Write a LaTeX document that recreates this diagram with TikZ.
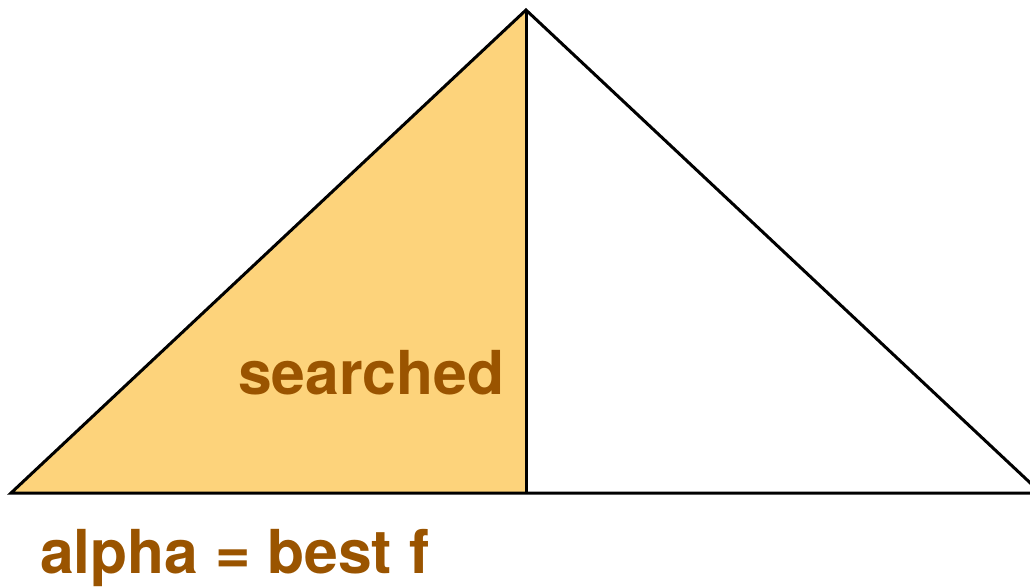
\documentclass[tikz,border=0pt]{standalone}
\usepackage{fontspec}
\setmainfont{TeX Gyre Heros}
\usetikzlibrary{positioning}
\definecolor{searchfill}{HTML}{FDD37B}
\definecolor{labelbrown}{HTML}{9A5400}
\tikzset{
  edge/.style={line width=3pt, line join=miter},
  bigtext/.style={labelbrown, font=\bfseries\fontsize{60.6}{72}\selectfont, inner sep=0pt, anchor=base west}
}
\begin{document}
\begin{tikzpicture}[x=1pt,y=-1pt]
\clip (0,0) rectangle (1030,587);

% corners of the tree
\coordinate (apex) at (526,10);
\coordinate (left) at (11,493);
\coordinate (mid) at (526,493);
\coordinate (right) at (1041,493);

% searched half
\fill[searchfill] (left) -- (apex) -- (mid) -- cycle;

\draw[edge] (left) -- (apex) -- (right) -- cycle;
\draw[edge] (apex) -- (mid);

\node[bigtext] (searched) at (238,394) {searched};
\node[bigtext] (alpha) at (40,573) {alpha = best f};
\end{tikzpicture}
\end{document}
